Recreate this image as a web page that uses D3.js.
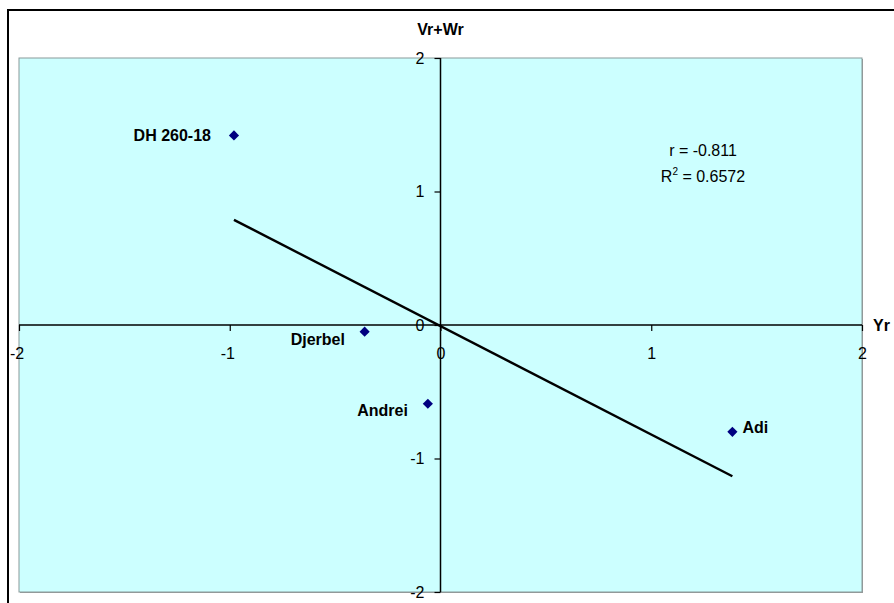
<!DOCTYPE html>
<html><head><meta charset="utf-8">
<script src="https://cdn.jsdelivr.net/npm/d3@7"></script>
<style>body{margin:0;background:#fff;} svg{display:block;font-family:"Liberation Sans",Arial,sans-serif;}</style>
</head><body>
<script>
const names = ["DH 260-18", "Djerbel", "Andrei", "Adi"];
const xValues = [-0.98, -0.36, -0.06, 1.385];
const yValues = [1.42, -0.05, -0.59, -0.80];
const xTicks = [-2, -1, 0, 1, 2];
const yTicks = [-2, -1, 0, 1, 2];
const statsLines = ["r = -0.811", "R2 = 0.6572"];

const W = 894, H = 603;
const FONT = "Liberation Sans, Arial, sans-serif";
const svg = d3.select("body").append("svg").attr("width", W).attr("height", H);
// outer frame
svg.append("rect").attr("x", 8).attr("y", 10).attr("width", 900).attr("height", 600)
  .attr("fill", "#fff").attr("stroke", "#000").attr("stroke-width", 2);

const pl = 19, pr = 862, pt = 58, pb = 592;
const x = d3.scaleLinear().domain([-2, 2]).range([pl, pr]);
const y = d3.scaleLinear().domain([-2, 2]).range([pb, pt]);

// shadow + plot area
svg.append("rect").attr("x", pl + 1).attr("y", pt + 1).attr("width", pr - pl).attr("height", pb - pt)
  .attr("fill", "#999");
svg.append("rect").attr("x", pl).attr("y", pt).attr("width", pr - pl).attr("height", pb - pt)
  .attr("fill", "#CCFFFF").attr("stroke", "#8a9a9a").attr("stroke-width", 1);

const fmt = d => String(d);

// axes through origin
const xAxis = d3.axisBottom(x).tickValues(xTicks).tickSize(6).tickPadding(0).tickFormat(fmt);
const gx = svg.append("g").attr("transform", `translate(0,${y(0)})`).call(xAxis)
  .attr("font-size", 16).attr("font-family", FONT);
gx.select(".domain").attr("stroke", "#000").attr("stroke-width", 1.5).attr("d", `M${pl},0H${pr}`);
gx.selectAll(".tick line").attr("stroke", "#000").attr("stroke-width", 1.2);
gx.selectAll(".tick text").attr("fill", "#000").attr("y", 34).attr("dy", 0)
  .attr("dx", d => d < 0 ? "-0.15em" : 0);

const yAxis = d3.axisLeft(y).tickValues(yTicks).tickSize(6).tickPadding(10).tickFormat(fmt);
const gy = svg.append("g").attr("transform", `translate(${x(0)},0)`).call(yAxis)
  .attr("font-size", 16).attr("font-family", FONT);
gy.select(".domain").attr("stroke", "#000").attr("stroke-width", 1.5).attr("d", `M0,${pt}V${pb}`);
gy.selectAll(".tick line").attr("stroke", "#000").attr("stroke-width", 1.2);
gy.selectAll(".tick text").attr("fill", "#000").attr("x", -16);

// axis titles
svg.append("text").attr("x", x(0)).attr("y", 35).attr("text-anchor", "middle")
  .attr("font-size", 16).attr("font-weight", "bold").text("Vr+Wr");
svg.append("text").attr("x", 873).attr("y", 331).attr("text-anchor", "start")
  .attr("font-size", 16).attr("font-weight", "bold").text("Yr");

// regression line
const n = xValues.length;
const mx = d3.mean(xValues), my = d3.mean(yValues);
let sxy = 0, sxx = 0;
for (let i = 0; i < n; i++) { sxy += (xValues[i] - mx) * (yValues[i] - my); sxx += (xValues[i] - mx) ** 2; }
const slope = sxy / sxx, icpt = my - slope * mx;
const x0 = d3.min(xValues), x1 = d3.max(xValues);
svg.append("line").attr("x1", x(x0)).attr("y1", y(icpt + slope * x0))
  .attr("x2", x(x1)).attr("y2", y(icpt + slope * x1))
  .attr("stroke", "#000").attr("stroke-width", 2.4);

// points
const pts = names.map((nm, i) => ({ name: nm, x: xValues[i], y: yValues[i] }));
svg.selectAll("path.pt").data(pts).enter().append("path").attr("class", "pt")
  .attr("d", d3.symbol().type(d3.symbolDiamond2).size(66))
  .attr("transform", d => `translate(${x(d.x)},${y(d.y)})`)
  .attr("fill", "#000080");

// labels
const labelPos = [
  { dx: -23, dy: 6, anchor: "end" },
  { dx: -74, dy: 13, anchor: "start" },
  { dx: -20, dy: 12, anchor: "end" },
  { dx: 10, dy: 1, anchor: "start" }
];
svg.selectAll("text.lbl").data(pts).enter().append("text").attr("class", "lbl")
  .attr("x", (d, i) => x(d.x) + labelPos[i].dx)
  .attr("y", (d, i) => y(d.y) + labelPos[i].dy)
  .attr("text-anchor", (d, i) => labelPos[i].anchor)
  .attr("font-size", 16).attr("font-weight", "bold").text(d => d.name);

// stats
svg.append("text").attr("x", 703).attr("y", 156).attr("text-anchor", "middle")
  .attr("font-size", 16).text(statsLines[0]);
const t2 = svg.append("text").attr("x", 703).attr("y", 182).attr("text-anchor", "middle").attr("font-size", 16);
t2.append("tspan").text("R");
t2.append("tspan").attr("font-size", 10).attr("dy", -7).text("2");
t2.append("tspan").attr("dy", 7).text(" = 0.6572");
</script>
</body></html>
